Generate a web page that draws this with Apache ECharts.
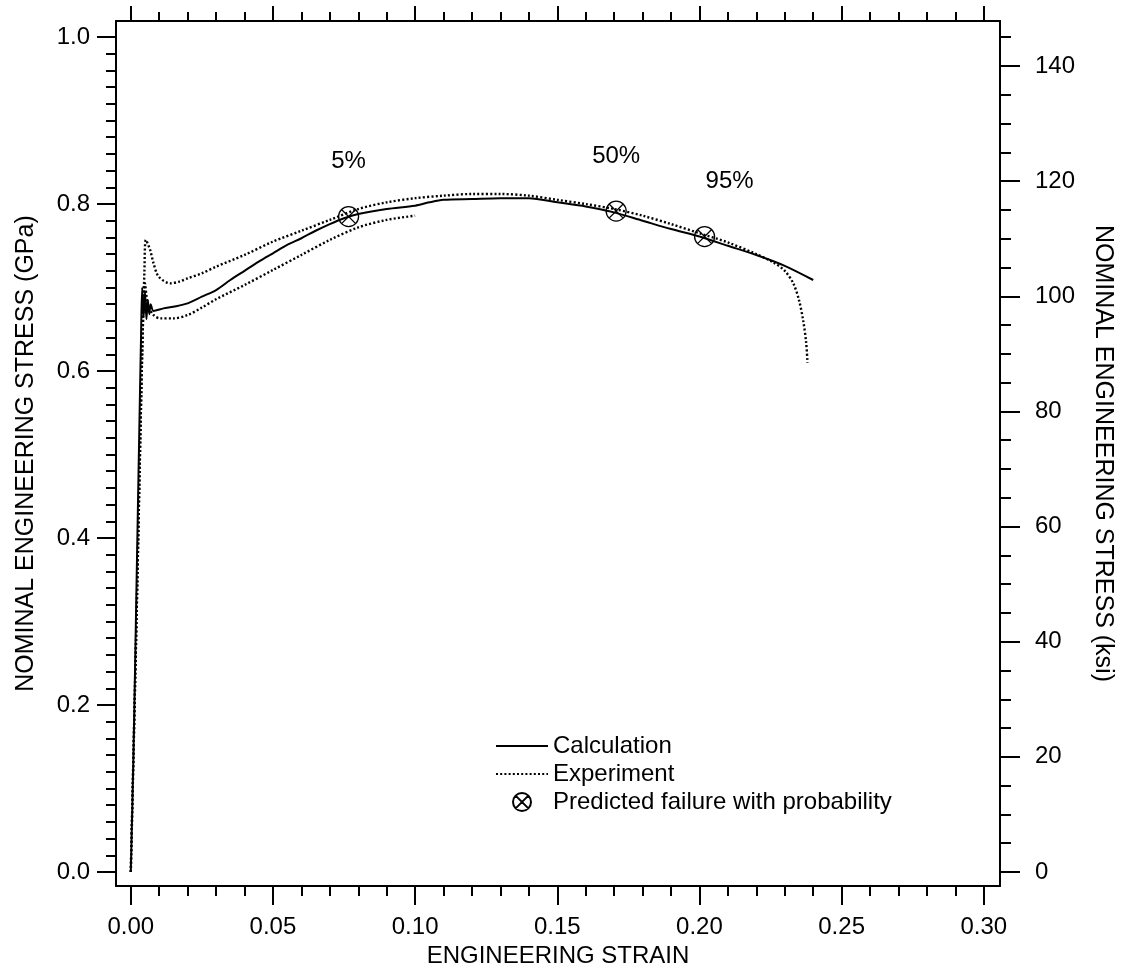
<!DOCTYPE html>
<html>
<head>
    <meta charset="UTF-8" />
    <title>stress strain</title>
    <script type="text/javascript" src="https://cdn.jsdelivr.net/npm/echarts@6/dist/echarts.min.js"></script>
    <style>
        html, body { margin: 0; padding: 0; background: #fff; }
    </style>
</head>
<body>

<div id="main" style="width: 1125px;height: 980px;"></div>

<script>
    // calculation (solid line)
    var calcStrain = [0, 0.001, 0.002, 0.003, 0.0036, 0.004, 0.0045, 0.005, 0.0055, 0.006, 0.0065, 0.007, 0.008, 0.0115, 0.015, 0.02, 0.025, 0.03, 0.035, 0.04, 0.045, 0.05, 0.055, 0.06, 0.065, 0.07, 0.075, 0.08, 0.09, 0.1, 0.105, 0.11, 0.12, 0.13, 0.14, 0.15, 0.16, 0.17, 0.18, 0.19, 0.2, 0.21, 0.22, 0.23, 0.24];
    var calcStress = [0, 0.15, 0.34, 0.53, 0.64, 0.70, 0.665, 0.695, 0.662, 0.685, 0.668, 0.68, 0.672, 0.675, 0.677, 0.681, 0.689, 0.697, 0.709, 0.72, 0.731, 0.741, 0.751, 0.759, 0.768, 0.776, 0.783, 0.788, 0.794, 0.798, 0.802, 0.805, 0.806, 0.807, 0.807, 0.802, 0.797, 0.79, 0.78, 0.77, 0.761, 0.75, 0.739, 0.726, 0.709];

    // experiment, upper curve (dotted)
    var expUpStrain = [0, 0.002, 0.004, 0.0048, 0.0053, 0.0068, 0.008, 0.0098, 0.0139, 0.017, 0.02, 0.025, 0.03, 0.04, 0.05, 0.06, 0.07, 0.08, 0.09, 0.1, 0.11, 0.12, 0.13, 0.14, 0.15, 0.16, 0.17, 0.18, 0.19, 0.2, 0.21, 0.22, 0.226, 0.23, 0.233, 0.235, 0.2365, 0.2375, 0.238];
    var expUpStress = [0, 0.3, 0.62, 0.72, 0.757, 0.745, 0.729, 0.713, 0.705, 0.707, 0.711, 0.717, 0.725, 0.739, 0.755, 0.768, 0.781, 0.794, 0.802, 0.807, 0.81, 0.812, 0.812, 0.81, 0.805, 0.8, 0.794, 0.786, 0.776, 0.765, 0.754, 0.74, 0.73, 0.72, 0.705, 0.685, 0.66, 0.635, 0.61];

    // experiment, lower curve (dotted)
    var expLowStrain = [0, 0.002, 0.004, 0.005, 0.006, 0.008, 0.0104, 0.015, 0.02, 0.025, 0.03, 0.04, 0.05, 0.06, 0.07, 0.08, 0.09, 0.1];
    var expLowStress = [0, 0.3, 0.62, 0.705, 0.68, 0.667, 0.663, 0.663, 0.667, 0.676, 0.686, 0.703, 0.721, 0.739, 0.757, 0.772, 0.781, 0.786];

    // predicted failure points
    var failStrain = [0.0766, 0.1707, 0.2018];
    var failStress = [0.785, 0.7916, 0.761];
    var failLabels = ['5%', '50%', '95%'];
    var failLabelShift = [0, 0, 25];

    // ticks
    var xMajor = [0, 0.05, 0.10, 0.15, 0.20, 0.25, 0.30];
    var yMajor = [0, 0.2, 0.4, 0.6, 0.8, 1.0];
    var ksiMajor = [0, 20, 40, 60, 80, 100, 120, 140];

    var GPA_TO_KSI = 145.038;
    var xMin = -0.0052, xMax = 0.3057;
    var yMin = -0.0168, yMax = 1.0192;

    function steps(from, to, step) {
        var out = [];
        for (var v = from; v <= to + 1e-9; v += step) {
            out.push(Math.round(v * 1e6) / 1e6);
        }
        return out;
    }
    var xMinor = steps(0, 0.30, 0.01);
    var yMinor = steps(0, 1.0, 0.02);
    var ksiMinor = steps(0, 145, 5);

    function pairs(xs, ys) {
        return xs.map(function (x, i) { return [x, ys[i]]; });
    }

    var FONT = '"Liberation Sans", Arial, Helvetica, sans-serif';
    var black = '#000';

    function tickAxis(pos, values, len, withLine) {
        return {
            type: 'value',
            position: pos,
            axisLine: {show: withLine, onZero: false, lineStyle: {color: black, width: 2}},
            axisTick: {show: true, inside: false, length: len, customValues: values, lineStyle: {color: black, width: 2}},
            axisLabel: {show: false},
            splitLine: {show: false}
        };
    }

    // x axes: bottom labelled, bottom minor, top major, top minor
    var xAxes = [
        tickAxis('bottom', xMajor, 19, true),
        tickAxis('bottom', xMinor, 10, false),
        tickAxis('top', xMajor, 15, true),
        tickAxis('top', xMinor, 9, false)
    ];
    xAxes[0].axisLabel = {
        show: true, customValues: xMajor, margin: 29,
        fontFamily: FONT, fontSize: 24, color: black,
        formatter: function (v) { return v.toFixed(2); }
    };
    xAxes[0].name = 'ENGINEERING STRAIN';
    xAxes[0].nameLocation = 'middle';
    xAxes[0].nameGap = 52;
    xAxes[0].nameTextStyle = {fontFamily: FONT, fontSize: 24, color: black};
    xAxes.forEach(function (a) { a.min = xMin; a.max = xMax; });

    // y axes: left GPa, right ksi
    var yAxes = [
        tickAxis('left', yMajor, 19, true),
        tickAxis('left', yMinor, 10, false),
        tickAxis('right', ksiMajor, 20, true),
        tickAxis('right', ksiMinor, 11, false)
    ];
    yAxes[0].axisLabel = {
        show: true, customValues: yMajor, margin: 26,
        fontFamily: FONT, fontSize: 24, color: black,
        formatter: function (v) { return v.toFixed(1); }
    };
    yAxes[0].name = 'NOMINAL ENGINEERING STRESS (GPa)';
    yAxes[0].nameLocation = 'middle';
    yAxes[0].nameGap = 77;
    yAxes[0].nameTextStyle = {fontFamily: FONT, fontSize: 25, color: black};

    yAxes[2].axisLabel = {
        show: true, customValues: ksiMajor, margin: 35,
        fontFamily: FONT, fontSize: 24, color: black
    };
    yAxes[2].name = 'NOMINAL ENGINEERING STRESS (ksi)';
    yAxes[2].nameLocation = 'middle';
    yAxes[2].nameRotate = -90;
    yAxes[2].nameGap = 90;
    yAxes[2].nameTextStyle = {fontFamily: FONT, fontSize: 25, color: black};

    yAxes[0].min = yMin; yAxes[0].max = yMax;
    yAxes[1].min = yMin; yAxes[1].max = yMax;
    yAxes[2].min = yMin * GPA_TO_KSI; yAxes[2].max = yMax * GPA_TO_KSI;
    yAxes[3].min = yMin * GPA_TO_KSI; yAxes[3].max = yMax * GPA_TO_KSI;

    // circle with a cross
    var otimes = 'path://M0,-10A10,10,0,1,1,0,10A10,10,0,1,1,0,-10ZM-7.07,-7.07L7.07,7.07M7.07,-7.07L-7.07,7.07';

    var failData = failStrain.map(function (x, i) {
        return {
            value: [x, failStress[i]],
            label: {
                show: true,
                formatter: failLabels[i],
                position: 'inside',
                offset: [failLabelShift[i], -55],
                fontFamily: FONT, fontSize: 24, color: black
            }
        };
    });

    var dotted = {color: black, width: 2.4, type: [2, 2.2]};

    var mychart = echarts.init(document.getElementById('main'));

    // line entries in the legend: plain line, no marker
    var hideMarker = {opacity: 0};

    var option = {
        animation: false,
        backgroundColor: '#fff',
        grid: {left: 116, right: 125, top: 21, bottom: 94, containLabel: false},
        xAxis: xAxes,
        yAxis: yAxes,
        legend: {
            orient: 'vertical',
            left: 490,
            top: 729,
            itemWidth: 52,
            itemHeight: 18,
            itemGap: 4,
            selectedMode: false,
            textStyle: {fontFamily: FONT, fontSize: 24, color: black},
            data: [
                {name: 'Calculation', itemStyle: hideMarker},
                {name: 'Experiment', itemStyle: hideMarker},
                {name: 'Predicted failure with probability'}
            ]
        },
        series: [
            {
                name: 'Calculation',
                type: 'line',
                data: pairs(calcStrain, calcStress),
                showSymbol: false,
                smooth: 0.3,
                lineStyle: {color: black, width: 2},
                itemStyle: {color: black},
                z: 3
            },
            {
                name: 'Experiment',
                type: 'line',
                data: pairs(expUpStrain, expUpStress),
                showSymbol: false,
                smooth: 0.3,
                lineStyle: dotted,
                itemStyle: {color: black}
            },
            {
                name: 'Experiment',
                type: 'line',
                data: pairs(expLowStrain, expLowStress),
                showSymbol: false,
                smooth: 0.3,
                lineStyle: dotted,
                itemStyle: {color: black}
            },
            {
                name: 'Predicted failure with probability',
                type: 'scatter',
                data: failData,
                symbol: otimes,
                symbolSize: 20,
                itemStyle: {color: 'rgba(0,0,0,0)', borderColor: black, borderWidth: 1.3, opacity: 1},
                z: 5
            }
        ]
    };

    mychart.setOption(option);
</script>

</body>
</html>
